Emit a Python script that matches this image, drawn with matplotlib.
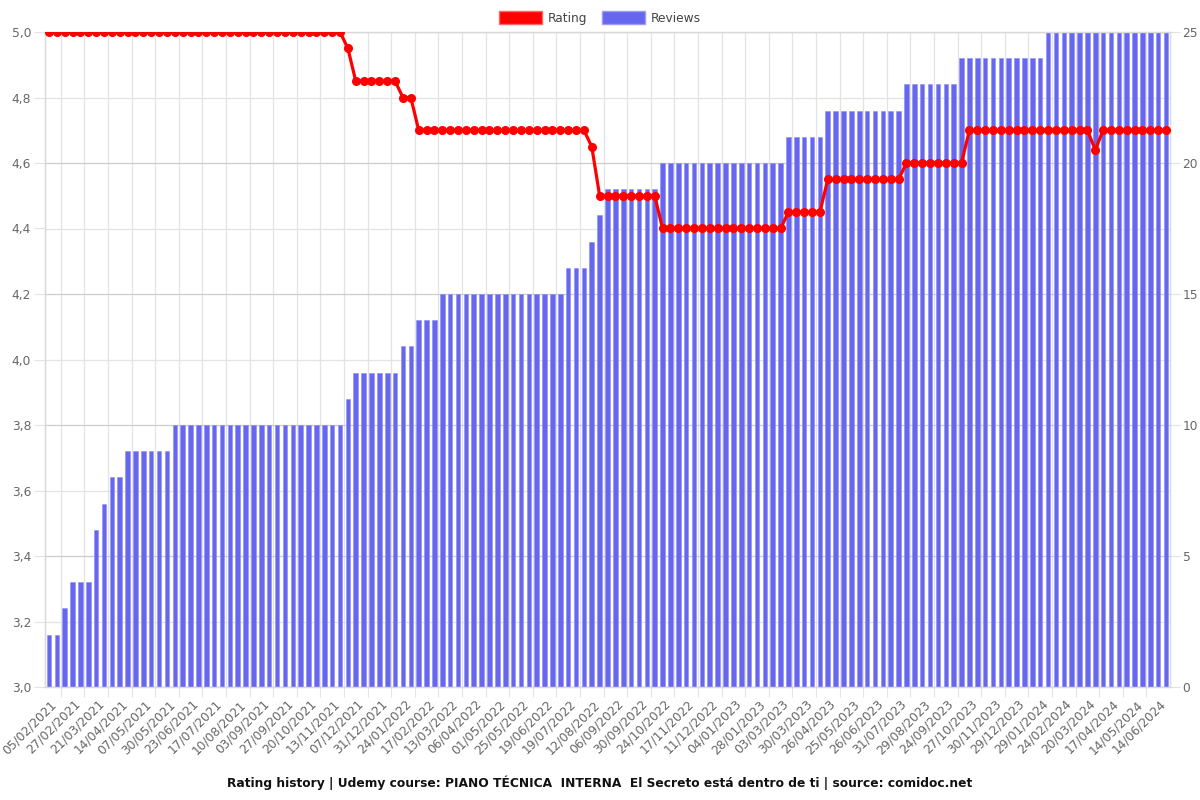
import matplotlib
matplotlib.use("Agg")
import matplotlib.pyplot as plt
from matplotlib.patches import Patch
from matplotlib.ticker import FixedLocator, FuncFormatter, MultipleLocator
import numpy as np

# tick labels shown under every third bar
tick_labels = [
    "05/02/2021", "27/02/2021", "21/03/2021", "14/04/2021", "07/05/2021", "30/05/2021",
    "23/06/2021", "17/07/2021", "10/08/2021", "03/09/2021", "27/09/2021", "20/10/2021",
    "13/11/2021", "07/12/2021", "31/12/2021", "24/01/2022", "17/02/2022", "13/03/2022",
    "06/04/2022", "01/05/2022", "25/05/2022", "19/06/2022", "19/07/2022", "12/08/2022",
    "06/09/2022", "30/09/2022", "24/10/2022", "17/11/2022", "11/12/2022", "04/01/2023",
    "28/01/2023", "03/03/2023", "30/03/2023", "26/04/2023", "25/05/2023", "26/06/2023",
    "31/07/2023", "29/08/2023", "24/09/2023", "27/10/2023", "30/11/2023", "29/12/2023",
    "29/01/2024", "24/02/2024", "20/03/2024", "17/04/2024", "14/05/2024", "14/06/2024",
]

# number of reviews, one value per bar
reviews = [
    2, 2, 3, 4, 4, 4, 6, 7, 8, 8,
    9, 9, 9, 9, 9, 9, 10, 10, 10, 10,
    10, 10, 10, 10, 10, 10, 10, 10, 10, 10,
    10, 10, 10, 10, 10, 10, 10, 10, 11, 12,
    12, 12, 12, 12, 12, 13, 13, 14, 14, 14,
    15, 15, 15, 15, 15, 15, 15, 15, 15, 15,
    15, 15, 15, 15, 15, 15, 16, 16, 16, 17,
    18, 19, 19, 19, 19, 19, 19, 19, 20, 20,
    20, 20, 20, 20, 20, 20, 20, 20, 20, 20,
    20, 20, 20, 20, 21, 21, 21, 21, 21, 22,
    22, 22, 22, 22, 22, 22, 22, 22, 22, 23,
    23, 23, 23, 23, 23, 23, 24, 24, 24, 24,
    24, 24, 24, 24, 24, 24, 24, 25, 25, 25,
    25, 25, 25, 25, 25, 25, 25, 25, 25, 25,
    25, 25, 25,
]

# average rating, one value per bar
rating = [
    5.0, 5.0, 5.0, 5.0, 5.0, 5.0, 5.0, 5.0, 5.0, 5.0,
    5.0, 5.0, 5.0, 5.0, 5.0, 5.0, 5.0, 5.0, 5.0, 5.0,
    5.0, 5.0, 5.0, 5.0, 5.0, 5.0, 5.0, 5.0, 5.0, 5.0,
    5.0, 5.0, 5.0, 5.0, 5.0, 5.0, 5.0, 5.0, 4.95, 4.85,
    4.85, 4.85, 4.85, 4.85, 4.85, 4.8, 4.8, 4.7, 4.7, 4.7,
    4.7, 4.7, 4.7, 4.7, 4.7, 4.7, 4.7, 4.7, 4.7, 4.7,
    4.7, 4.7, 4.7, 4.7, 4.7, 4.7, 4.7, 4.7, 4.7, 4.65,
    4.5, 4.5, 4.5, 4.5, 4.5, 4.5, 4.5, 4.5, 4.4, 4.4,
    4.4, 4.4, 4.4, 4.4, 4.4, 4.4, 4.4, 4.4, 4.4, 4.4,
    4.4, 4.4, 4.4, 4.4, 4.45, 4.45, 4.45, 4.45, 4.45, 4.55,
    4.55, 4.55, 4.55, 4.55, 4.55, 4.55, 4.55, 4.55, 4.55, 4.6,
    4.6, 4.6, 4.6, 4.6, 4.6, 4.6, 4.6, 4.7, 4.7, 4.7,
    4.7, 4.7, 4.7, 4.7, 4.7, 4.7, 4.7, 4.7, 4.7, 4.7,
    4.7, 4.7, 4.7, 4.64, 4.7, 4.7, 4.7, 4.7, 4.7, 4.7,
    4.7, 4.7, 4.7,
]

RED = "#ff0000"
BLUE = "#6666ee"
GRID = "#e3e3e3"
TEXT = "#666666"
FS = 8.8

x = np.arange(len(reviews))

fig = plt.figure(figsize=(12, 8), dpi=100)
ax2 = fig.add_axes([45 / 1200, 1 - 687 / 800, 1125 / 1200, 655 / 800])
ax = ax2.twinx()
ax.yaxis.tick_left()
ax.yaxis.set_label_position("left")
ax2.yaxis.tick_right()

# bars on the review axis (drawn underneath)
ax2.bar(x, reviews, width=0.58, color=BLUE, edgecolor="#8e8ef2", linewidth=0.4, zorder=2)
ax2.set_ylim(0, 25)
ax2.set_xlim(-0.5, len(reviews) - 0.5)

# rating line on top
ax.plot(x, rating, color=RED, linewidth=2.3, marker="o", markersize=5.5, zorder=3)
ax.set_ylim(3.0, 5.0)
ax.patch.set_visible(False)

# grids live on the review axis so they stay behind the bars
ax2.set_axisbelow(True)
ax2.yaxis.set_major_locator(MultipleLocator(5))
ax2.yaxis.set_minor_locator(MultipleLocator(2.5))
ax2.grid(which="major", axis="y", color="#cccccc", linewidth=0.9)
ax2.grid(which="minor", axis="y", color=GRID, linewidth=0.9)

# vertical grid between groups of three bars, labels under every third bar
ax2.xaxis.set_major_locator(FixedLocator(np.arange(1.5, len(reviews) - 2, 3)))
ax2.xaxis.set_minor_locator(FixedLocator(np.arange(0, len(reviews), 3) + 0.75))
ax2.set_xticklabels([], minor=False)
ax2.set_xticklabels(tick_labels, minor=True, rotation=45, ha="right",
                    rotation_mode="anchor", va="center", fontsize=FS, color=TEXT)
ax2.grid(which="major", axis="x", color=GRID, linewidth=0.9)
ax2.tick_params(axis="x", which="major", length=7, color=GRID)
ax2.tick_params(axis="x", which="minor", length=0, pad=11)

ax.yaxis.set_major_locator(MultipleLocator(0.2))
ax.yaxis.set_major_formatter(FuncFormatter(lambda v, p: f"{v:.1f}".replace(".", ",")))
ax.tick_params(axis="y", length=8, color=GRID, labelsize=FS, labelcolor=TEXT, pad=2)
ax2.tick_params(axis="y", which="major", length=7, color=GRID, labelsize=FS, labelcolor=TEXT, pad=2)
ax2.tick_params(axis="y", which="minor", length=0)
ax.tick_params(axis="x", length=0)

for a in (ax, ax2):
    for s in a.spines.values():
        s.set_color("#d9d9d9")
        s.set_linewidth(0.9)

handles = [Patch(facecolor=RED, edgecolor="#ff6666"), Patch(facecolor=BLUE, edgecolor="#9c9cf4")]
fig.legend(handles, ["Rating", "Reviews"], loc="upper center", bbox_to_anchor=(0.5, 1.0),
           ncol=2, frameon=False, fontsize=FS, handlelength=3.5, handleheight=1.25,
           handletextpad=0.5, columnspacing=1.2, labelcolor="#444444")

fig.text(0.5, 1 - 783 / 800, "Rating history | Udemy course: PIANO TÉCNICA  INTERNA  El Secreto está dentro de ti | source: comidoc.net",
         ha="center", va="center", fontsize=FS, fontweight="bold", color="#111111")

fig.savefig("out.png", dpi=100)
